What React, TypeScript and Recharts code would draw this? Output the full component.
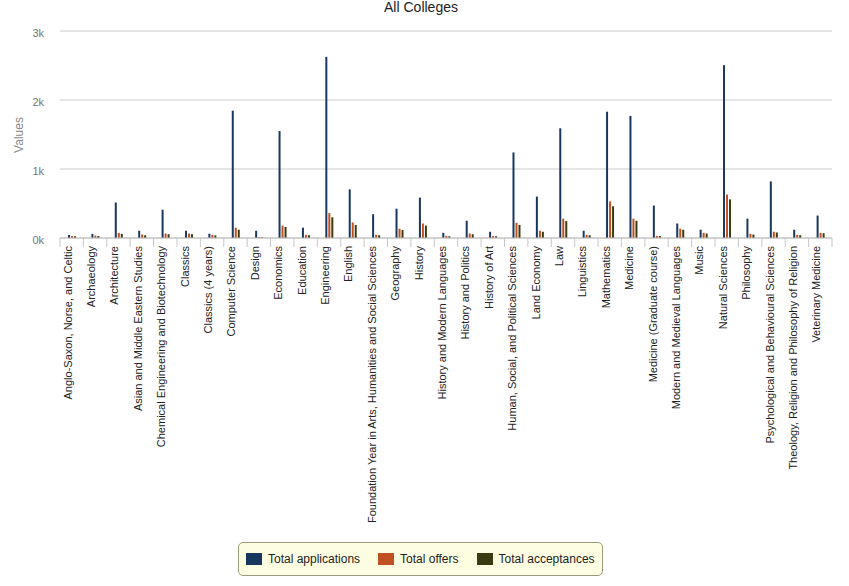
import React from 'react';
import { BarChart, Bar, XAxis, YAxis, CartesianGrid } from 'recharts';

const subjects = [
  'Anglo-Saxon, Norse, and Celtic',
  'Archaeology',
  'Architecture',
  'Asian and Middle Eastern Studies',
  'Chemical Engineering and Biotechnology',
  'Classics',
  'Classics (4 years)',
  'Computer Science',
  'Design',
  'Economics',
  'Education',
  'Engineering',
  'English',
  'Foundation Year in Arts, Humanities and Social Sciences',
  'Geography',
  'History',
  'History and Modern Languages',
  'History and Politics',
  'History of Art',
  'Human, Social, and Political Sciences',
  'Land Economy',
  'Law',
  'Linguistics',
  'Mathematics',
  'Medicine',
  'Medicine (Graduate course)',
  'Modern and Medieval Languages',
  'Music',
  'Natural Sciences',
  'Philosophy',
  'Psychological and Behavioural Sciences',
  'Theology, Religion and Philosophy of Religion',
  'Veterinary Medicine',
];

const applications = [
  45, 60, 515, 105, 410, 105, 62, 1845, 105, 1550, 150, 2625, 705, 345, 425, 585, 75,
  250, 90, 1240, 600, 1590, 105, 1830, 1770, 470, 210, 120, 2505, 280, 820, 120, 325,
];
const offers = [
  30, 35, 75, 50, 65, 65, 45, 150, 12, 180, 45, 360, 225, 45, 135, 210, 30,
  65, 30, 220, 105, 280, 45, 530, 280, 30, 135, 75, 630, 60, 90, 45, 75,
];
const acceptances = [
  25, 28, 60, 40, 55, 55, 38, 120, 10, 160, 40, 300, 190, 40, 115, 180, 25,
  55, 25, 190, 90, 245, 40, 460, 250, 28, 120, 65, 560, 50, 80, 40, 70,
];

const seriesKeys = ['applications', 'offers', 'acceptances'];
const seriesNames = ['Total applications', 'Total offers', 'Total acceptances'];
const seriesColors = ['#17375E', '#C0501F', '#3B3B12'];
const yTicks = [0, 1000, 2000, 3000];

const data = subjects.map((subject, i) => ({
  subject,
  applications: applications[i],
  offers: offers[i],
  acceptances: acceptances[i],
}));

const FONT = '"Liberation Sans", Arial, sans-serif';

const SubjectTick = (props: any) => {
  const { x, y, payload, index } = props;
  const half = payload && payload.offset ? payload.offset : 11.7;
  const last = index === subjects.length - 1;
  return (
    <g transform={`translate(${x},${y})`}>
      <line x1={-half} x2={-half} y1={0} y2={9} stroke="#c8c8c8" />
      {last && <line x1={half} x2={half} y1={0} y2={9} stroke="#c8c8c8" />}
      <text
        transform="rotate(-90)"
        x={-8}
        y={0}
        textAnchor="end"
        fontSize={11}
        fontFamily={FONT}
        fill="#222"
      >
        {payload.value}
      </text>
    </g>
  );
};

const ValueTick = (props: any) => {
  const { x, y, payload } = props;
  return (
    <text x={x} y={y + 6} textAnchor="end" fontSize={11} fontFamily={FONT} fill="#777">
      {payload.value / 1000 + 'k'}
    </text>
  );
};

export default function App() {
  return (
    <div
      style={{
        position: 'absolute',
        left: 0,
        top: 0,
        width: 849,
        height: 586,
        background: '#fff',
        fontFamily: FONT,
      }}
    >
      <div
        style={{
          position: 'absolute',
          left: 0,
          top: 0,
          width: 842,
          textAlign: 'center',
          fontSize: 14,
          lineHeight: '14px',
          color: '#222',
        }}
      >
        All Colleges
      </div>
      <div style={{ position: 'absolute', left: 19, top: 135, width: 0, height: 0 }}>
        <span
          style={{
            position: 'absolute',
            left: 0,
            top: 0,
            whiteSpace: 'nowrap',
            fontSize: 12,
            color: '#8a8a8a',
            transform: 'translate(-50%, -50%) rotate(-90deg)',
          }}
        >
          Values
        </span>
      </div>
      <BarChart
        width={849}
        height={586}
        data={data}
        margin={{ top: 31, right: 17, bottom: 0, left: 0 }}
        barSize={2}
        barGap={1}
      >
        <CartesianGrid vertical={false} stroke="#cccccc" />
        <XAxis
          dataKey="subject"
          interval={0}
          height={348}
          tickSize={0}
          tickMargin={0}
          axisLine={{ stroke: '#c0c0c0' }}
          tickLine={false}
          tick={<SubjectTick />}
        />
        <YAxis
          width={60}
          domain={[0, 3000]}
          ticks={yTicks}
          axisLine={false}
          tickLine={false}
          tickSize={0}
          tickMargin={16}
          tick={<ValueTick />}
        />
        {seriesKeys.map((k, i) => (
          <Bar key={k} dataKey={k} name={seriesNames[i]} fill={seriesColors[i]} isAnimationActive={false} />
        ))}
      </BarChart>
      <div
        style={{
          position: 'absolute',
          left: 238,
          top: 542,
          width: 365,
          height: 34,
          border: '1px solid #9a9a7c',
          borderRadius: 5,
          background: '#fdfde2',
          display: 'flex',
          alignItems: 'center',
          paddingLeft: 7,
          boxSizing: 'border-box',
          whiteSpace: 'nowrap',
        }}
      >
        {seriesNames.map((n, i) => (
          <div key={n} style={{ display: 'flex', alignItems: 'center', marginRight: 18, flexShrink: 0 }}>
            <div style={{ width: 16, height: 12, background: seriesColors[i], marginRight: 6, flexShrink: 0 }} />
            <span style={{ fontSize: 12, color: '#222' }}>{n}</span>
          </div>
        ))}
      </div>
    </div>
  );
}
